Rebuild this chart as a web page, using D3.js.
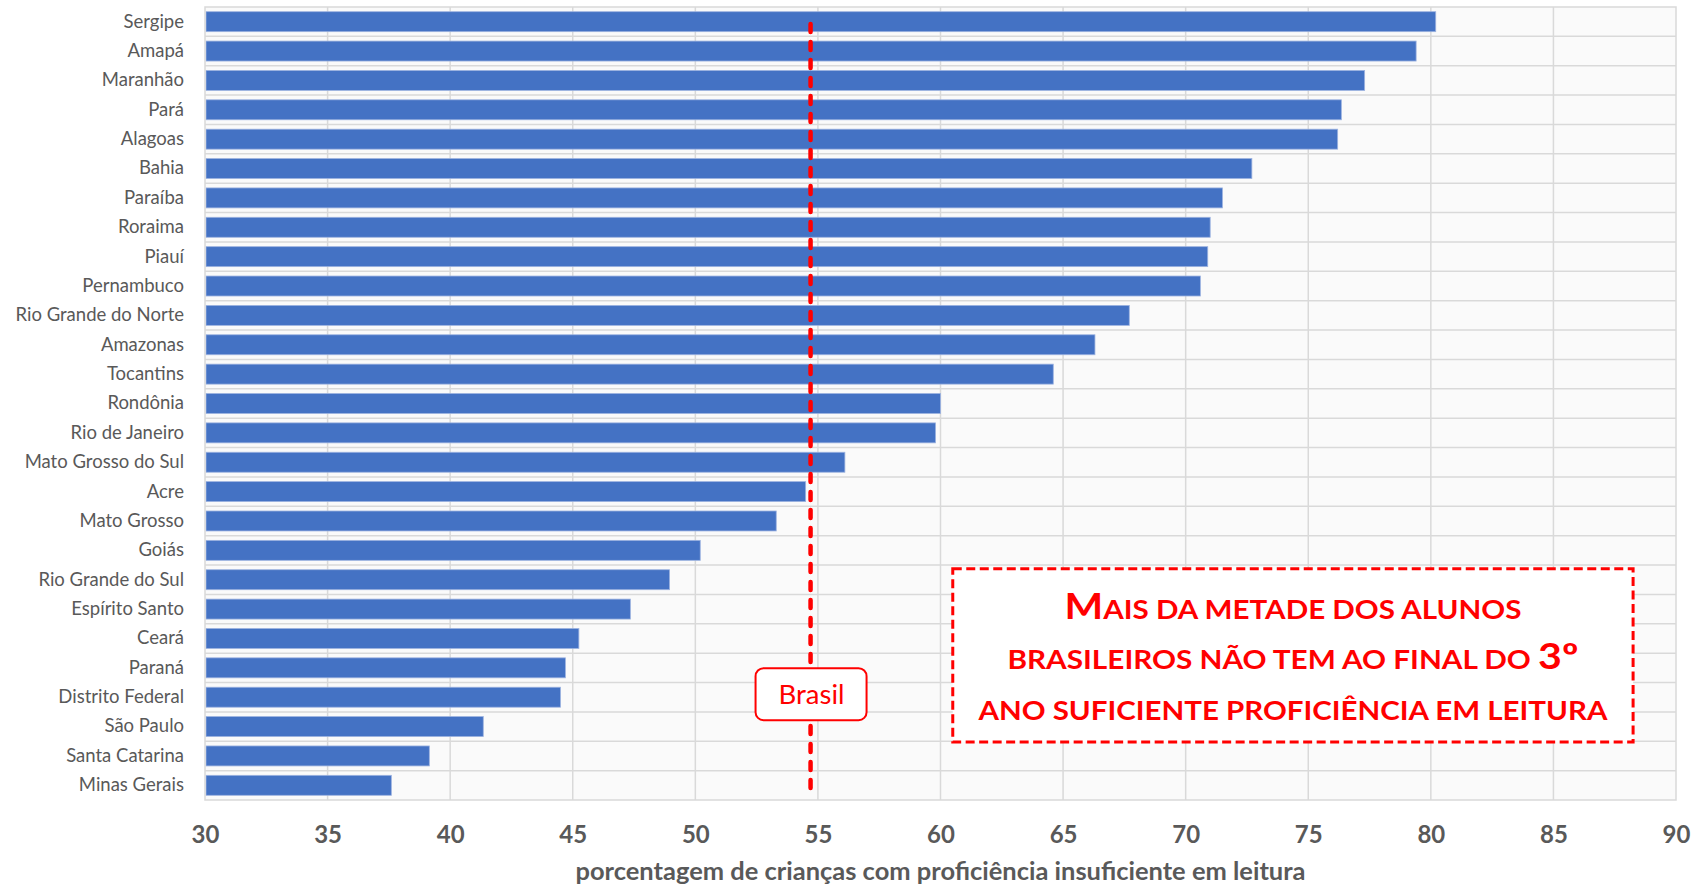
<!DOCTYPE html>
<html lang="pt">
<head>
<meta charset="UTF-8" />
<title>Proficiência em leitura</title>
<style>
  body {
    margin: 0;
    background: #fff;
  }

  #container {
    width: 1695px;
    height: 889px;
  }

  text {
    font-family: Lato, "Open Sans", sans-serif;
  }
</style>
</head>
<body>
<div id="container"></div>
<script src="https://cdn.jsdelivr.net/npm/d3@7/dist/d3.min.js"></script>
<script>
// data
const states = ["Sergipe", "Amapá", "Maranhão", "Pará", "Alagoas", "Bahia", "Paraíba", "Roraima",
  "Piauí", "Pernambuco", "Rio Grande do Norte", "Amazonas", "Tocantins", "Rondônia",
  "Rio de Janeiro", "Mato Grosso do Sul", "Acre", "Mato Grosso", "Goiás", "Rio Grande do Sul",
  "Espírito Santo", "Ceará", "Paraná", "Distrito Federal", "São Paulo", "Santa Catarina", "Minas Gerais"];
const values = [80.2, 79.4, 77.3, 76.35, 76.2, 72.7, 71.5, 71.0, 70.9, 70.6, 67.7, 66.3, 64.6, 60.0,
  59.8, 56.1, 54.5, 53.3, 50.2, 48.95, 47.35, 45.25, 44.7, 44.5, 41.35, 39.15, 37.6];
const xTicks = [30, 35, 40, 45, 50, 55, 60, 65, 70, 75, 80, 85, 90];
const brasilValue = 54.7;
const brasilLabel = "Brasil";
const axisTitle = "porcentagem de crianças com proficiência insuficiente em leitura";
// [text, big] pieces of the note, one array per line
const noteLines = [
  [["M", true], ["AIS DA METADE DOS ALUNOS", false]],
  [["BRASILEIROS NÃO TEM AO FINAL DO ", false], ["3º", true]],
  [["ANO SUFICIENTE PROFICIÊNCIA EM LEITURA", false]]
];

const W = 1695, H = 889;
const margin = { top: 7, right: 19, bottom: 89, left: 205 };
const width = W - margin.left - margin.right,
  height = H - margin.top - margin.bottom;

const svg = d3.select('#container').append('svg')
  .attr('width', W).attr('height', H);

const g = svg.append('g').attr('transform', `translate(${margin.left},${margin.top})`);

const x = d3.scaleLinear().domain([30, 90]).range([0, width]);
const y = d3.scaleBand().domain(states).range([0, height])
  .paddingInner(0.32).paddingOuter(0.16);

// plot background
g.append('rect')
  .attr('width', width).attr('height', height)
  .attr('fill', '#fafafa');

// grid
g.selectAll('.vgrid')
  .data(xTicks.slice(1, -1))
  .enter().append('line')
  .attr('x1', d => x(d)).attr('x2', d => x(d))
  .attr('y1', 0).attr('y2', height)
  .attr('stroke', '#d9d9d9').attr('stroke-width', 1.5);

g.selectAll('.hgrid')
  .data(d3.range(1, states.length))
  .enter().append('line')
  .attr('x1', 0).attr('x2', width)
  .attr('y1', i => i * y.step()).attr('y2', i => i * y.step())
  .attr('stroke', '#d9d9d9').attr('stroke-width', 1.5);

// bars
g.selectAll('.bar')
  .data(values)
  .enter().append('rect')
  .attr('x', x(30) + 1)
  .attr('y', (d, i) => y(states[i]))
  .attr('width', d => x(d) - x(30) - 1)
  .attr('height', y.bandwidth())
  .attr('fill', '#4472c4')
  .attr('stroke', '#9db3e0').attr('stroke-width', 0.8);

// frame
g.append('rect')
  .attr('width', width).attr('height', height)
  .attr('fill', 'none').attr('stroke', '#d9d9d9').attr('stroke-width', 1.5);

// y axis
const yAxis = g.append('g').call(d3.axisLeft(y).tickSize(0).tickPadding(21));
yAxis.select('.domain').remove();
yAxis.selectAll('text')
  .attr('font-size', 18.5).attr('fill', '#595959')
  .style('font-family', 'Lato, sans-serif');

// x axis
const xAxis = g.append('g')
  .attr('transform', `translate(0,${height})`)
  .call(d3.axisBottom(x).tickValues(xTicks).tickSize(0));
xAxis.select('.domain').remove();
xAxis.selectAll('text')
  .attr('y', 43).attr('dy', 0)
  .attr('font-size', 24).attr('font-weight', 'bold').attr('fill', '#595959')
  .style('font-family', 'Lato, sans-serif');

g.append('text')
  .attr('x', width / 2).attr('y', height + 80)
  .attr('text-anchor', 'middle')
  .attr('font-size', 24).attr('font-weight', 'bold').attr('fill', '#595959')
  .attr('textLength', 730).attr('lengthAdjust', 'spacingAndGlyphs')
  .text(axisTitle);

// Brasil reference line
const bx = x(brasilValue);
g.append('line')
  .attr('x1', bx).attr('x2', bx)
  .attr('y1', 17).attr('y2', height - 12)
  .attr('stroke', '#ff0000').attr('stroke-width', 4.5)
  .attr('stroke-linecap', 'round')
  .attr('stroke-dasharray', '8,10');

const labelY = y('Distrito Federal') + y.bandwidth() / 2 - 3;
g.append('rect')
  .attr('x', bx - 55).attr('y', labelY - 26)
  .attr('width', 111).attr('height', 52)
  .attr('rx', 8)
  .attr('fill', '#fff').attr('stroke', '#ff0000').attr('stroke-width', 2);
g.append('text')
  .attr('x', bx + 1).attr('y', labelY + 10)
  .attr('text-anchor', 'middle')
  .attr('font-size', 27.5).attr('fill', '#ff0000')
  .text(brasilLabel);

// note box
const nx0 = x(60.5), nx1 = x(88.25);
const ny0 = y('Rio Grande do Sul') - 1, ny1 = y('Santa Catarina') - 4;
g.append('rect')
  .attr('x', nx0).attr('y', ny0)
  .attr('width', nx1 - nx0).attr('height', ny1 - ny0)
  .attr('fill', '#fff')
  .attr('stroke', '#ff0000').attr('stroke-width', 3)
  .attr('stroke-dasharray', '9,4.5');

const lineLens = [457, 571, 629];
const cx = (nx0 + nx1) / 2;
noteLines.forEach((parts, i) => {
  const t = g.append('text')
    .attr('x', cx).attr('y', ny0 + 50 + i * 50.5)
    .attr('text-anchor', 'middle')
    .attr('font-weight', 'bold').attr('fill', '#ff0000')
    .attr('textLength', lineLens[i]).attr('lengthAdjust', 'spacingAndGlyphs');
  parts.forEach(p => {
    t.append('tspan')
      .attr('font-size', p[1] ? 36 : 26)
      .text(p[0]);
  });
});
</script>
</body>
</html>
